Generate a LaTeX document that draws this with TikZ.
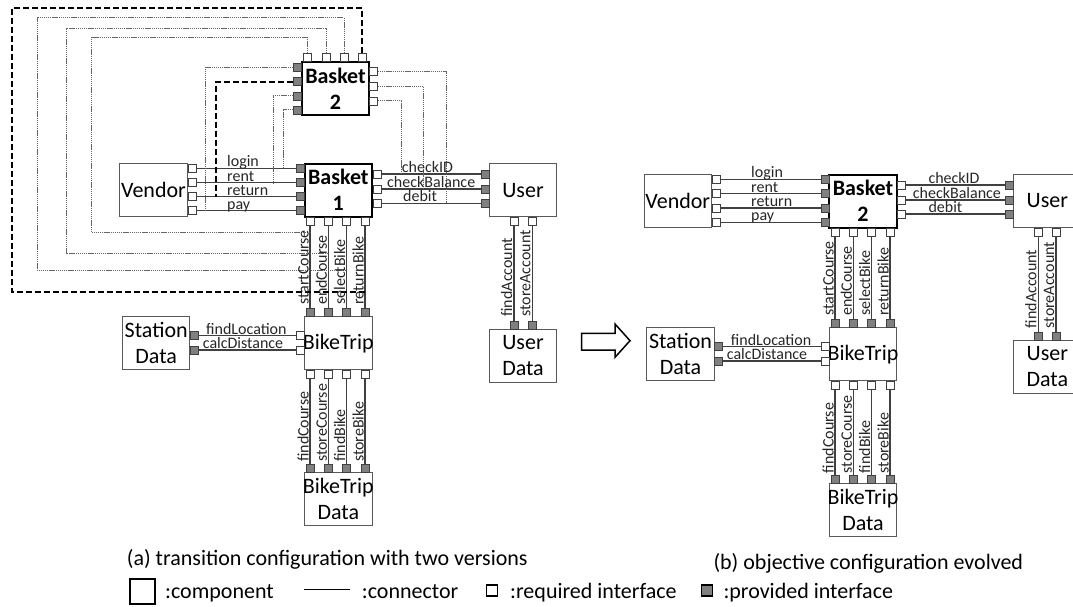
\documentclass[tikz,border=0pt]{standalone}
\usepackage{fontspec}
\setmainfont{Carlito}
\newcommand{\bigfont}{\fontsize{22}{26}\selectfont}
\newcommand{\smallfont}{\fontsize{16}{19}\selectfont}

\begin{document}
\begin{tikzpicture}[x=1pt, y=-1pt,
  comp/.style={draw=black!65, line width=1pt, minimum width=67.5pt, minimum height=53pt,
    inner sep=0pt, align=center, font=\bigfont},
  basket/.style={comp, draw=black, line width=2pt, font=\bigfont\bfseries},
  req/.style={draw=black!75, fill=white, line width=0.8pt, minimum size=8pt, inner sep=0pt},
  prov/.style={req, fill=black!50},
  conn/.style={black!75, line width=1.2pt},
  alt/.style={black!60, line width=1pt, dash pattern=on 1.2pt off 0.7pt},
  altd/.style={black, line width=2pt, dash pattern=on 6pt off 3pt},
  lbl/.style={font=\smallfont, inner sep=0pt, anchor=base west, text=black!85},
  vlbl/.style={lbl, rotate=90}]
  \useasboundingbox (0,0) rectangle (1073,607);

  % (a) transition configuration
  \node[comp] (vendA) at (153.5,190) {Vendor};
  \node[basket] (bskA1) at (338.3,190) {Basket\\1};
  \node[basket] (bskA2) at (335.5,88.3) {Basket\\2};
  \node[comp] (userA) at (523,190.3) {User};
  \node[comp] (udatA) at (523,356) {User\\Data};
  \node[comp] (statA) at (156.2,343.3) {Station\\Data};
  \node[comp] (tripA) at (338.3,343.3) {\makebox[0pt]{BikeTrip}};
  \node[comp] (tdatA) at (338.3,499.3) {\makebox[0pt]{BikeTrip}\\Data};

  \foreach \y [count=\i] in {168.3,182.7,196.7,210.7} {
    \node[req] (vA\i) at (192,\y) {};
    \node[prov] (bAl\i) at (300.3,\y) {};
    \draw[conn] (vA\i) -- (bAl\i);
  }
  \foreach \y [count=\i] in {174,189,203.3} {
    \node[req] (bAr\i) at (377,\y) {};
    \node[prov] (uAl\i) at (485.3,\y) {};
    \draw[conn] (bAr\i) -- (uAl\i);
  }
  \foreach \x [count=\i] in {310,328.4,346.7,365} {
    \node[req] (bAb\i) at (\x,221) {};
    \node[prov] (tAt\i) at (\x,312.4) {};
    \node[req] (tAb\i) at (\x,374.2) {};
    \node[prov] (dAt\i) at (\x,468.6) {};
    \draw[conn] (bAb\i) -- (tAt\i);
    \draw[conn] (tAb\i) -- (dAt\i);
  }
  \foreach \y [count=\i] in {335.7,350} {
    \node[prov] (sAr\i) at (194,\y) {};
    \node[req] (tAl\i) at (300.3,\y) {};
    \draw[conn] (sAr\i) -- (tAl\i);
  }
  \foreach \x [count=\i] in {514,532.3} {
    \node[req] (uAb\i) at (\x,221.3) {};
    \node[prov] (dUt\i) at (\x,325.3) {};
    \draw[conn] (uAb\i) -- (dUt\i);
  }

  % second version beside the first one
  \foreach \x [count=\i] in {307.7,326,344,362.3}
    \node[req] (bBt\i) at (\x,57.6) {};
  \foreach \y [count=\i] in {67.3,81.7,96,110}
    \node[prov] (bBl\i) at (297.5,\y) {};
  \foreach \y [count=\i] in {71.7,86.7,101}
    \node[req] (bBr\i) at (373.5,\y) {};

  \foreach \i/\j/\xx in {1/4/205.7, 3/2/273.3, 4/1/283.3}
    \draw[alt] (bBl\i.west) -| (vA\j -| \xx,0);
  \draw[altd] (bBl2.west) -| (vA3 -| 216,0);
  \foreach \i/\j/\xx in {1/3/446.7, 2/2/423.3, 3/1/401}
    \draw[alt] (bBr\i.east) -| (uAl\j -| \xx,0);
  \foreach \i/\yt/\xl/\yb in {1/37.3/91.7/232.5, 2/28.3/66.7/253.3, 3/17.7/37.3/270.3}
    \draw[alt] (bBt\i.north) |- (\xl,\yt) |- (bAb\i |- 0,\yb);
  \draw[altd] (bBt4.north) |- (11.7,8.3) |- (bAb4 |- 0,292);

  \foreach \lab/\y [count=\i] in {login/168.3, rent/182.7, return/196.7, pay/210.7}
    \node[lbl] (lA\i) at (227,\y-1.5) {\lab};
  \node[lbl] (lAid) at (401.7,172.5) {checkID};
  \node[lbl] (lAbal) at (387,187.5) {checkBalance};
  \node[lbl] (lAdeb) at (403,201.8) {debit};
  \node[lbl] (lAloc) at (206,334.2) {findLocation};
  \node[lbl] (lAdist) at (202.7,348.5) {calcDistance};
  \foreach \lab/\x [count=\i] in {startCourse/310, endCourse/328.4, selectBike/346.7, returnBike/365}
    \node[vlbl] (vA\i) at (\x-1.5,305) {\lab};
  \foreach \lab/\x [count=\i] in {findCourse/310, storeCourse/328.4, findBike/346.7, storeBike/365}
    \node[vlbl] (wA\i) at (\x-1.5,462) {\lab};
  \foreach \lab/\x [count=\i] in {findAccount/514, storeAccount/532.3}
    \node[vlbl] (xA\i) at (\x-2,316.7) {\lab};

  % arrow between (a) and (b)
  \draw[black, line width=1.5pt, fill=white, line join=miter]
    (581.7,333.3) -- (615,333.3) -- (615,324) -- (630,340.7) -- (615,357.3)
    -- (615,350) -- (581.7,350) -- cycle;

  % (b) objective configuration
  \node[comp] (vendB) at (677.8,201) {Vendor};
  \node[basket] (bskB) at (863,201) {Basket\\2};
  \node[comp] (userB) at (1047.3,201) {User};
  \node[comp] (udatB) at (1047.3,366.7) {User\\Data};
  \node[comp] (statB) at (680.5,354.3) {Station\\Data};
  \node[comp] (tripB) at (863,354.3) {\makebox[0pt]{BikeTrip}};
  \node[comp] (tdatB) at (863,510) {\makebox[0pt]{BikeTrip}\\Data};

  \foreach \y [count=\i] in {179.3,193.5,208,222.3} {
    \node[req] (vB\i) at (716,\y) {};
    \node[prov] (cBl\i) at (825.3,\y) {};
    \draw[conn] (vB\i) -- (cBl\i);
  }
  \foreach \y [count=\i] in {185,200,214} {
    \node[req] (cBr\i) at (901,\y) {};
    \node[prov] (uBl\i) at (1009.3,\y) {};
    \draw[conn] (cBr\i) -- (uBl\i);
  }
  \foreach \x [count=\i] in {835,853.3,871.7,890} {
    \node[req] (cBb\i) at (\x,232) {};
    \node[prov] (tBt\i) at (\x,323.7) {};
    \node[req] (tBb\i) at (\x,385.2) {};
    \node[prov] (dBt\i) at (\x,479.3) {};
    \draw[conn] (cBb\i) -- (tBt\i);
    \draw[conn] (tBb\i) -- (dBt\i);
  }
  \foreach \y [count=\i] in {346.5,361} {
    \node[prov] (sBr\i) at (718.3,\y) {};
    \node[req] (tBl\i) at (825.3,\y) {};
    \draw[conn] (sBr\i) -- (tBl\i);
  }
  \foreach \x [count=\i] in {1038.3,1056} {
    \node[req] (uBb\i) at (\x,232) {};
    \node[prov] (dUBt\i) at (\x,336) {};
    \draw[conn] (uBb\i) -- (dUBt\i);
  }

  \foreach \lab/\y [count=\i] in {login/179.3, rent/193.5, return/208, pay/222.3}
    \node[lbl] (lB\i) at (751,\y-1.5) {\lab};
  \node[lbl] (lBid) at (928.3,183.5) {checkID};
  \node[lbl] (lBbal) at (912.7,198.5) {checkBalance};
  \node[lbl] (lBdeb) at (928.3,212.5) {debit};
  \node[lbl] (lBloc) at (730.7,345) {findLocation};
  \node[lbl] (lBdist) at (726.7,359.5) {calcDistance};
  \foreach \lab/\x [count=\i] in {startCourse/835, endCourse/853.3, selectBike/871.7, returnBike/890}
    \node[vlbl] (vB\i) at (\x-1.5,316) {\lab};
  \foreach \lab/\x [count=\i] in {findCourse/835, storeCourse/853.3, findBike/871.7, storeBike/890}
    \node[vlbl] (wB\i) at (\x-1.5,473.3) {\lab};
  \foreach \lab/\x [count=\i] in {findAccount/1038.3, storeAccount/1056}
    \node[vlbl] (xB\i) at (\x-2,328.3) {\lab};

  % captions and legend
  \node[anchor=base west, inner sep=0pt, font=\bigfont] (capA) at (126.7,565)
    {(a) transition configuration with two versions};
  \node[anchor=base west, inner sep=0pt, font=\bigfont] (capB) at (713.3,569)
    {(b) objective configuration evolved};
  \node[draw, line width=1.5pt, minimum width=25pt, minimum height=25pt, inner sep=0pt]
    (legComp) at (142.5,591.5) {};
  \node[anchor=base west, inner sep=0pt, font=\bigfont] (legCompT) at (165,598) {:component};
  \draw[black, line width=1.2pt] (304,589.5) -- (350,589.5);
  \node[anchor=base west, inner sep=0pt, font=\bigfont] (legConnT) at (361.7,598) {:connector};
  \node[req, draw=black, minimum size=11pt, line width=1.2pt] (legReq) at (491.7,590.5) {};
  \node[anchor=base west, inner sep=0pt, font=\bigfont] (legReqT) at (510,598) {:required interface};
  \node[prov, draw=black, minimum size=11pt, line width=1.2pt] (legProv) at (707,590.5) {};
  \node[anchor=base west, inner sep=0pt, font=\bigfont] (legProvT) at (723.3,598) {:provided interface};
\end{tikzpicture}
\end{document}
